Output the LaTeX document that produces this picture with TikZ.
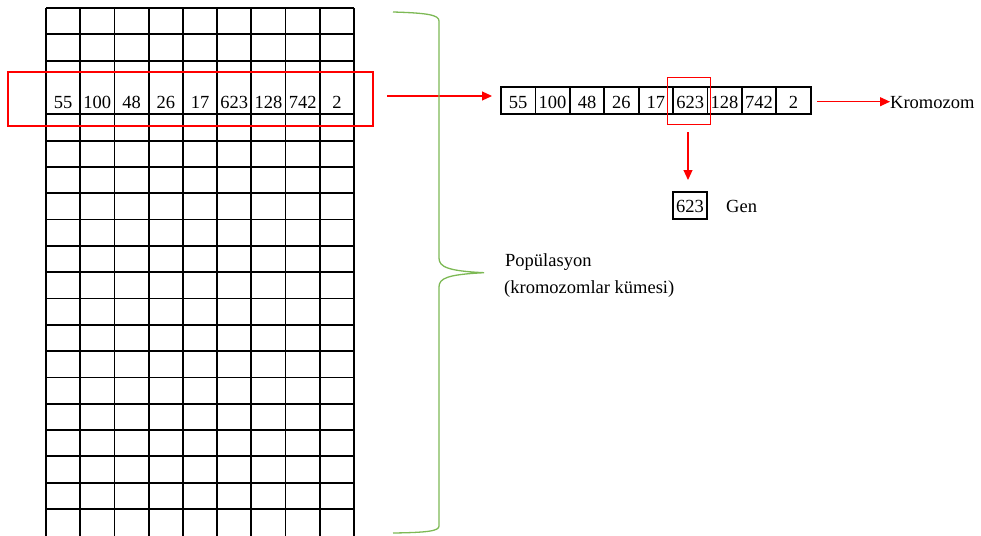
\documentclass[tikz,border=0pt]{standalone}
\usepackage{fontspec}
\setmainfont{Liberation Serif}
\usetikzlibrary{arrows.meta}
\definecolor{bracegreen}{RGB}{125,185,85}
\tikzset{
  gridline/.style={line width=1.8pt,black},
  redline/.style={line width=1.1pt,red},
  redarrow/.style={line width=1.1pt,red,-{Triangle[length=10pt,width=9pt]}},
  txt/.style={font=\fontsize{18.5}{22}\selectfont,inner sep=0pt},
  cell/.style={draw,line width=1.8pt,minimum width=34.4pt,minimum height=27.3pt,inner sep=0pt,
     font=\fontsize{18.5}{22}\selectfont,text height=16pt,text depth=0pt},
}
\begin{document}
\begin{tikzpicture}[x=1pt,y=-1pt]
\useasboundingbox (0,0) rectangle (981,535);
% population grid
\foreach \i in {0,...,9} {
  \draw[gridline] ({46+34.222*\i},8) -- ({46+34.222*\i},536);
}
\foreach \yy in {8,34.3,61} {
  \draw[gridline] (46,\yy) -- (354,\yy);
}
\foreach \k in {0,...,15} {
  \draw[gridline] (46,{114.3+26.31*\k}) -- (354,{114.3+26.31*\k});
}
% numbers in the selected row
\foreach \v [count=\i] in {55,100,48,26,17,623,128,742,2} {
  \node[txt,anchor=base] (g\i) at ({46+34.222*(\i-0.5)},108) {\v};
}
% red selection rectangle
\node[redline,draw,minimum width=365pt,minimum height=54pt,inner sep=0pt] (sel) at (190.5,99) {};
% chromosome cells
\foreach \v [count=\i] in {55,100,48,26,17,623,128,742,2} {
  \node[cell] (c\i) at ({501+34.4*(\i-0.5)},100.4) {\v};
}
% red selection of gene
\node[redline,draw,minimum width=42.7pt,minimum height=46.7pt,inner sep=0pt] (gsel) at (688.7,100.7) {};
% gene
\node[cell,minimum width=34.6pt,minimum height=26.7pt,text height=14.2pt] (gen) at (690,205.6) {623};
\node[txt,anchor=base west] (genlbl) at (726,212.7) {Gen};
% kromozom label
\node[txt,anchor=base west] (krom) at (890,108.3) {Kromozom};
% arrows
\coordinate (a1) at (387,96);
\coordinate (a2) at (492,96);
\draw[redarrow] (a1) -- (a2);
\coordinate (k1) at (817,101.7);
\draw[redarrow] (k1) -- (krom.west |- k1);
\coordinate (d1) at (688,132);
\coordinate (d2) at (688,180);
\draw[redarrow] (d1) -- (d2);
% brace
\draw[bracegreen,line width=1.3pt]
  (393,12) .. controls (428,13) and (439,15) .. (439,21)
  -- (439,258) .. controls (439,267) and (448,271) .. (484,272.7)
  .. controls (448,274.5) and (439,278) .. (439,287)
  -- (439,526) .. controls (439,531) and (428,532.5) .. (393,533);
% population label
\node[txt,anchor=base west] (pop1) at (505,266.7) {Popülasyon};
\node[txt,anchor=base west] (pop2) at (504,293.3) {(kromozomlar kümesi)};
\end{tikzpicture}
\end{document}
